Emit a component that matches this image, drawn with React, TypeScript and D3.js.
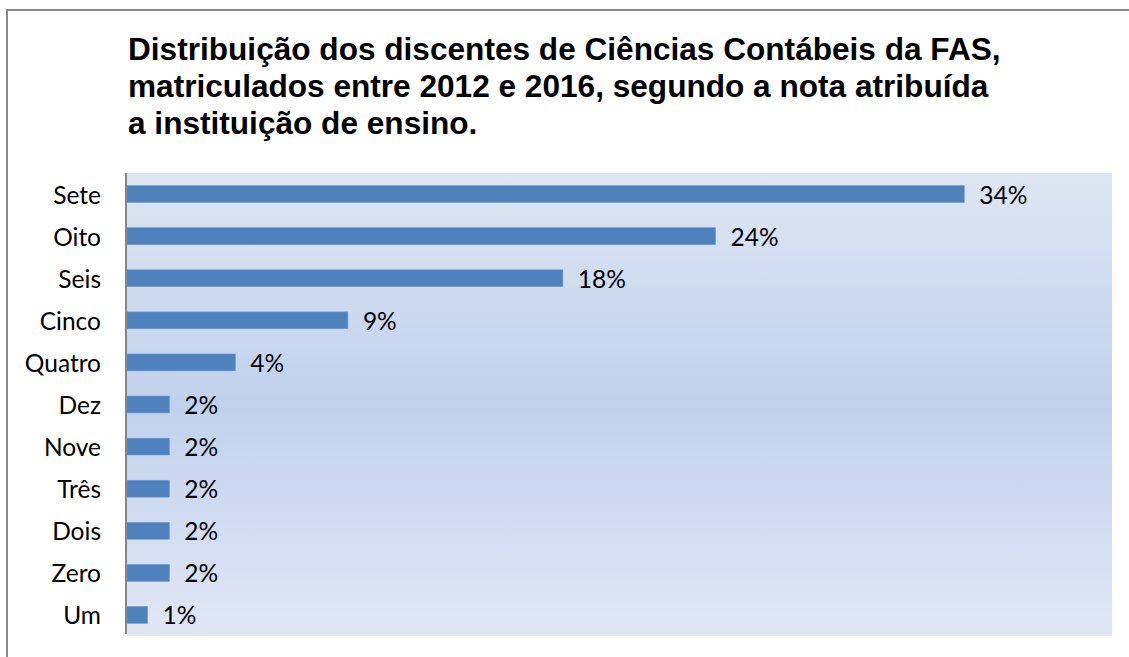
import React from "react";
import * as d3 from "d3";

const categories: string[] = ["Sete", "Oito", "Seis", "Cinco", "Quatro", "Dez", "Nove", "Três", "Dois", "Zero", "Um"];
const values: number[] = [34.0, 23.9, 17.7, 8.97, 4.4, 1.72, 1.72, 1.72, 1.72, 1.72, 0.83];
const titleLines: string[] = [
  "Distribuição dos discentes de Ciências Contábeis da FAS,",
  "matriculados entre 2012 e 2016, segundo a nota atribuída",
  "a instituição de ensino.",
];
const xDomain: [number, number] = [0, 40];

export default function App() {
  const W = 1129;
  const H = 657;
  const plot = { left: 127, right: 1112, top: 173, bottom: 636 };

  const x = d3.scaleLinear().domain(xDomain).range([plot.left, plot.right]);
  const y = d3
    .scaleBand<string>()
    .domain(categories)
    .range([plot.top, plot.bottom])
    .paddingInner(0.6)
    .paddingOuter(0.3);

  const labelFont = "Lato, 'Open Sans', sans-serif";

  return (
    <svg
      width={W}
      height={H}
      style={{ position: "fixed", left: 0, top: 0, display: "block", background: "#fff" }}
    >
      <defs>
        <linearGradient id="plotGrad" x1="0" y1="0" x2="0" y2="1">
          <stop offset="0%" stopColor="#dde6f2" />
          <stop offset="50%" stopColor="#c1d1ed" />
          <stop offset="100%" stopColor="#e1e7f5" />
        </linearGradient>
      </defs>

      {/* outer frame (cut off at right and bottom) */}
      <path d={`M7,${H + 2} L7,10 L${W + 2},10`} fill="none" stroke="#898989" strokeWidth={2} />

      {/* title */}
      <g fontFamily="'Liberation Sans', Arial, sans-serif" fontWeight="bold" fontSize={31.6} fill="#000">
        {titleLines.map((t, i) => (
          <text key={i} x={128} y={60 + i * 37}>
            {t}
          </text>
        ))}
      </g>

      {/* plot area */}
      <rect
        x={plot.left}
        y={plot.top}
        width={plot.right - plot.left}
        height={plot.bottom - plot.top}
        fill="url(#plotGrad)"
      />

      {/* bars */}
      {categories.map((c, i) => (
        <rect
          key={c}
          x={x(0)}
          y={y(c)!}
          width={x(values[i]) - x(0)}
          height={y.bandwidth()}
          fill="#4f81bd"
          stroke="#6d97cb"
          strokeWidth={0.6}
        />
      ))}

      {/* axis line */}
      <line x1={126} x2={126} y1={plot.top} y2={634} stroke="#868686" strokeWidth={2} />

      {/* category labels */}
      <g fontFamily={labelFont} fontSize={24.5} fill="#000">
        {categories.map((c) => (
          <text key={c} x={101} y={y(c)! + y.bandwidth() / 2} textAnchor="end" dominantBaseline="central">
            {c}
          </text>
        ))}
      </g>

      {/* data labels */}
      <g fontFamily={labelFont} fontSize={24.5} fill="#000">
        {categories.map((c, i) => (
          <text
            key={c}
            x={x(values[i]) + 15}
            y={y(c)! + y.bandwidth() / 2}
            textAnchor="start"
            dominantBaseline="central"
          >
            {Math.round(values[i]) + "%"}
          </text>
        ))}
      </g>
    </svg>
  );
}
